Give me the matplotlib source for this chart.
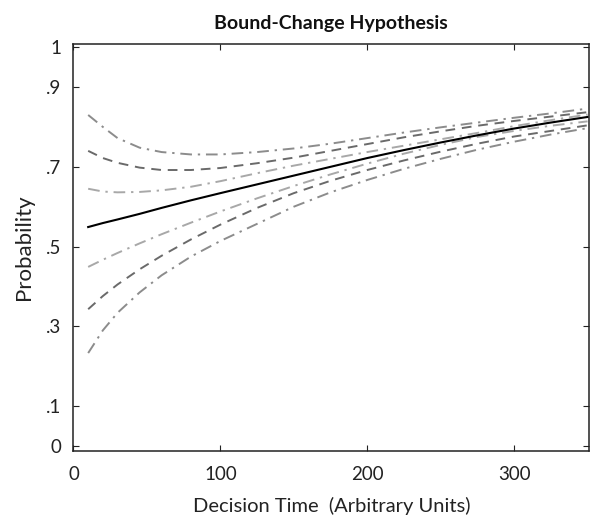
import matplotlib
matplotlib.use("Agg")
import matplotlib.pyplot as plt

plt.rcParams['font.family'] = ['Lato', 'DejaVu Sans']

# Decision time samples
time = [10, 20, 30, 45, 60, 80, 100, 125, 150, 175, 200, 225, 250, 275, 300, 325, 350]

# Probability curves
p_mid = [0.549, 0.559, 0.568, 0.582, 0.597, 0.616, 0.634, 0.656, 0.678, 0.700,
         0.722, 0.742, 0.761, 0.779, 0.796, 0.811, 0.825]
p_up1 = [0.645, 0.638, 0.636, 0.637, 0.641, 0.650, 0.664, 0.684, 0.703, 0.720,
         0.737, 0.753, 0.769, 0.785, 0.802, 0.817, 0.831]
p_up2 = [0.740, 0.722, 0.710, 0.698, 0.692, 0.692, 0.697, 0.709, 0.723, 0.740,
         0.757, 0.774, 0.789, 0.803, 0.815, 0.826, 0.837]
p_up3 = [0.830, 0.800, 0.772, 0.748, 0.737, 0.731, 0.731, 0.737, 0.746, 0.758,
         0.772, 0.786, 0.799, 0.811, 0.823, 0.834, 0.846]
p_lo1 = [0.449, 0.467, 0.484, 0.508, 0.531, 0.560, 0.588, 0.621, 0.652, 0.681,
         0.708, 0.733, 0.755, 0.775, 0.790, 0.803, 0.814]
p_lo2 = [0.343, 0.376, 0.405, 0.443, 0.477, 0.518, 0.555, 0.597, 0.634, 0.665,
         0.692, 0.716, 0.738, 0.758, 0.776, 0.790, 0.804]
p_lo3 = [0.233, 0.290, 0.334, 0.385, 0.428, 0.475, 0.514, 0.557, 0.600, 0.636,
         0.667, 0.695, 0.720, 0.743, 0.763, 0.781, 0.797]

x_ticks = [0, 100, 200, 300]
y_ticks = [0, 0.1, 0.3, 0.5, 0.7, 0.9, 1]
y_tick_labels = ['0', '.1', '.3', '.5', '.7', '.9', '1']

fig = plt.figure(figsize=(5.95, 5.16), dpi=100)
ax = fig.add_axes([0.1235, 0.126, 0.8665, 0.788])

dashdot = (0, (6, 3, 1.2, 3))
dashed = (0, (5, 3.5))

light = '#a8a8a8'
mid = '#8c8c8c'
dark = '#6a6a6a'

ax.plot(time, p_up3, color=mid, lw=1.4, linestyle=dashdot)
ax.plot(time, p_up2, color=dark, lw=1.4, linestyle=dashed)
ax.plot(time, p_up1, color=light, lw=1.4, linestyle=dashdot)
ax.plot(time, p_lo1, color=light, lw=1.4, linestyle=dashdot)
ax.plot(time, p_lo2, color=dark, lw=1.4, linestyle=dashed)
ax.plot(time, p_lo3, color=mid, lw=1.4, linestyle=dashdot)
ax.plot(time, p_mid, color='black', lw=1.5, linestyle='-')

ax.set_xlim(0, 351)
ax.set_ylim(-0.0125, 1.007)
ax.set_xticks(x_ticks)
ax.set_yticks(y_ticks)
ax.set_yticklabels(y_tick_labels)

ax.tick_params(direction='in', length=4, width=0.8, top=True, right=True,
               labelsize=13.5, pad=9, colors='#222222')
ax.tick_params(axis='x', pad=11)
for s in ax.spines.values():
    s.set_linewidth(1.1)
    s.set_color('#222222')

ax.set_xlabel('Decision Time  (Arbitrary Units)', fontsize=14.5, labelpad=10, color='#222222')
ax.set_ylabel('Probability', fontsize=16, labelpad=8, color='#222222')
ax.set_title('Bound-Change Hypothesis', fontsize=14, fontweight='bold', pad=11, color='#111111')

fig.savefig('out.png', dpi=100)
